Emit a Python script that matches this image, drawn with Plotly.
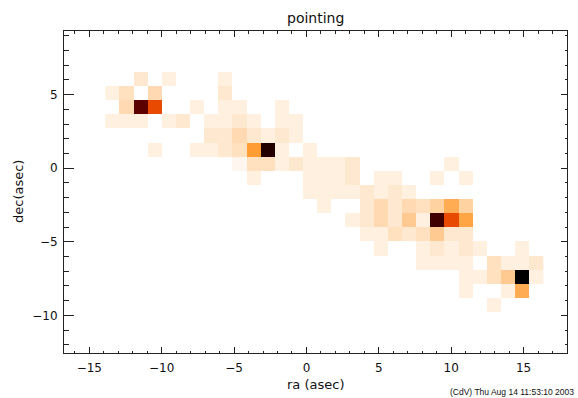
import plotly.graph_objects as go

# ---- data: 2D pointing histogram (counts), rows from top (high dec) to bottom ----
ra_first_center = -13.41     # centre of first ra bin (asec)
ra_bin = 0.976               # ra bin width (asec)
dec_top_center = 6.063       # centre of top dec bin (asec)
dec_bin = 0.960              # dec bin height (asec)

counts = [
    # k: -14 .. 16
    [0,0,3,0,2,0,0,0,2,0,0,0,0,0,0,0,0,0,0,0,0,0,0,0,0,0,0,0,0,0,0],
    [2,4,0,5,0,0,0,0,3,0,0,0,0,0,0,0,0,0,0,0,0,0,0,0,0,0,0,0,0,0,0],
    [0,5,48,24,0,0,2,0,2,2,0,0,2,0,0,0,0,0,0,0,0,0,0,0,0,0,0,0,0,0,0],
    [2,2,2,0,2,3,0,2,2,3,2,0,2,2,0,0,0,0,0,0,0,0,0,0,0,0,0,0,0,0,0],
    [0,0,0,0,0,0,0,3,3,5,3,2,3,2,0,0,0,0,0,0,0,0,0,0,0,0,0,0,0,0,0],
    [0,0,0,2,0,0,2,2,3,4,13,58,2,0,2,0,0,0,0,0,0,0,0,0,0,0,0,0,0,0,0],
    [0,0,0,0,0,0,0,0,0,1,4,4,2,3,2,2,2,3,0,0,0,0,0,0,2,0,0,0,0,0,0],
    [0,0,0,0,0,0,0,0,0,0,2,0,0,0,2,2,2,3,0,2,2,0,0,2,0,2,0,0,0,0,0],
    [0,0,0,0,0,0,0,0,0,0,0,0,0,0,2,2,2,2,3,2,3,2,0,0,0,0,0,0,0,0,0],
    [0,0,0,0,0,0,0,0,0,0,0,0,0,0,0,2,0,0,3,5,3,5,4,6,11,6,0,0,0,0,0],
    [0,0,0,0,0,0,0,0,0,0,0,0,0,0,0,0,0,2,3,5,3,7,2,53,24,12,0,0,0,0,0],
    [0,0,0,0,0,0,0,0,0,0,0,0,0,0,0,0,0,0,2,2,4,3,4,7,3,3,0,0,0,0,0],
    [0,0,0,0,0,0,0,0,0,0,0,0,0,0,0,0,0,0,0,2,0,0,2,3,2,3,2,0,0,2,0],
    [0,0,0,0,0,0,0,0,0,0,0,0,0,0,0,0,0,0,0,0,0,0,2,2,2,2,0,4,2,2,3],
    [0,0,0,0,0,0,0,0,0,0,0,0,0,0,0,0,0,0,0,0,0,0,0,0,0,2,2,4,7,64,2],
    [0,0,0,0,0,0,0,0,0,0,0,0,0,0,0,0,0,0,0,0,0,0,0,0,0,2,0,0,2,11,0],
    [0,0,0,0,0,0,0,0,0,0,0,0,0,0,0,0,0,0,0,0,0,0,0,0,0,0,0,2,0,0,0],
]
zmax = 64

x_range = [-16.75, 18.0]
y_range = [-12.56, 9.33]
x_ticks = [-15, -10, -5, 0, 5, 10, 15]
y_ticks = [-10, -5, 0, 5]

title_text = "pointing"
x_title = "ra (asec)"
y_title = "dec(asec)"
footer = "(CdV) Thu Aug 14 11:53:10 2003"

# ---- reversed "red temperature" colour table ----
def red_temp_rev(frac):
    i = 255 - frac * 255
    r = min(255, max(0, i * 255 / 176))
    g = min(255, max(0, (i - 120) * 255 / 135))
    b = min(255, max(0, (i - 190) * 255 / 65))
    return f"rgb({int(round(r))},{int(round(g))},{int(round(b))})"

n = 64
colorscale = [[s / n, red_temp_rev(s / n)] for s in range(n + 1)]

z = [[(v if v > 0 else None) for v in row] for row in reversed(counts)]
n_rows = len(counts)
y0 = dec_top_center - dec_bin * (n_rows - 1)

fig = go.Figure()
fig.add_trace(go.Heatmap(
    z=z, x0=ra_first_center, dx=ra_bin, y0=y0, dy=dec_bin,
    zmin=0, zmax=zmax, colorscale=colorscale, showscale=False,
    hoverongaps=False,
))
# invisible trace to anchor the mirrored top/right axes
fig.add_trace(go.Scatter(x=[], y=[], xaxis="x2", yaxis="y2", showlegend=False))

font = "DejaVu Sans"
axcol = "#222222"
common = dict(showgrid=False, zeroline=False, showline=True, linecolor=axcol,
              linewidth=1, ticks="inside", tickcolor=axcol, tickwidth=1)

fig.update_layout(
    width=578, height=398,
    margin=dict(l=64, r=11, t=31, b=45),
    paper_bgcolor="white", plot_bgcolor="white",
    showlegend=False,
    font=dict(family=font, color="#111111"),
    xaxis=dict(range=x_range, tickvals=x_ticks, ticklen=6,
               minor=dict(dtick=1, tick0=0, ticks="inside", ticklen=2.5, tickcolor=axcol),
               tickfont=dict(size=12, family=font), ticklabelstandoff=4,
               **common),
    yaxis=dict(range=y_range, tickvals=y_ticks, ticklen=10,
               minor=dict(dtick=1, tick0=0, ticks="inside", ticklen=5, tickcolor=axcol),
               tickfont=dict(size=12, family=font), ticklabelstandoff=3,
               **common),
    xaxis2=dict(range=x_range, overlaying="x", side="top", tickvals=x_ticks,
                ticklen=6, showticklabels=False,
                minor=dict(dtick=1, tick0=0, ticks="inside", ticklen=2.5, tickcolor=axcol),
                **common),
    yaxis2=dict(range=y_range, overlaying="y", side="right", tickvals=y_ticks,
                ticklen=6, showticklabels=False,
                minor=dict(dtick=1, tick0=0, ticks="inside", ticklen=2.5, tickcolor=axcol),
                **common),
    annotations=[
        dict(text=title_text, xref="paper", yref="paper", x=0.5, y=1, yshift=13,
             xanchor="center", yanchor="middle", showarrow=False,
             font=dict(size=14, family=font, color="#111111")),
        dict(text=x_title, xref="paper", yref="paper", x=0.5, y=0, yshift=-31,
             xanchor="center", yanchor="middle", showarrow=False,
             font=dict(size=13, family=font, color="#111111")),
        dict(text=y_title, xref="paper", yref="paper", x=0, xshift=-46, y=0.5,
             xanchor="center", yanchor="middle", showarrow=False, textangle=-90,
             font=dict(size=13, family=font, color="#111111")),
        dict(text=footer, xref="paper", yref="paper", x=1, xshift=9, y=0,
             yshift=-39, xanchor="right", yanchor="middle", showarrow=False,
             font=dict(size=8.5, family="Liberation Sans", color="#111111")),
    ],
)

fig.write_html("out.html")
